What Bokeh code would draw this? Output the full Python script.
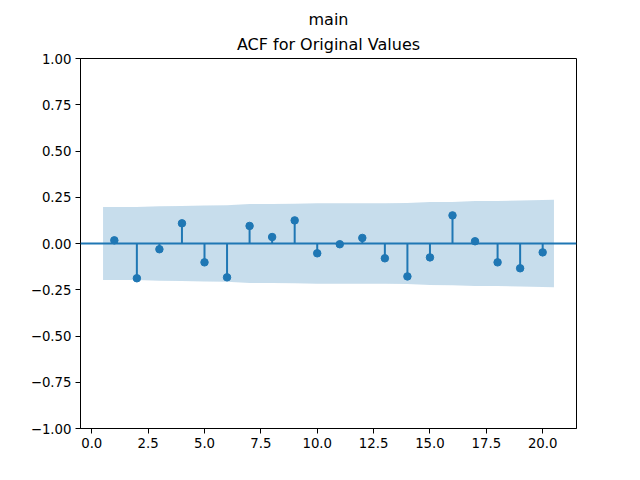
from bokeh.plotting import figure
from bokeh.models import Span, Title, Range1d, FixedTicker, CustomJSTickFormatter, ColumnDataSource
from bokeh.embed import file_html
from bokeh.resources import INLINE

# data
lags = [1, 2, 3, 4, 5, 6, 7, 8, 9, 10, 11, 12, 13, 14, 15, 16, 17, 18, 19, 20]
acf_values = [0.017, -0.188, -0.031, 0.109, -0.102, -0.183, 0.095, 0.035, 0.125, -0.053,
              -0.004, 0.030, -0.080, -0.178, -0.075, 0.152, 0.012, -0.102, -0.134, -0.048]
conf_halfwidth = [0.197, 0.197, 0.202, 0.203, 0.205, 0.207, 0.213, 0.214, 0.215, 0.218,
                  0.218, 0.218, 0.218, 0.219, 0.224, 0.225, 0.230, 0.230, 0.232, 0.236]
x_ticks = [0.0, 2.5, 5.0, 7.5, 10.0, 12.5, 15.0, 17.5, 20.0]
y_ticks = [-1.0, -0.75, -0.5, -0.25, 0.0, 0.25, 0.5, 0.75, 1.0]
title_top = "main"
title_main = "ACF for Original Values"

C0 = "#1f77b4"
FONT = "DejaVu Sans"

p = figure(width=624, height=464, output_backend="svg", toolbar_location=None,
           x_range=Range1d(-0.5, 21.5), y_range=Range1d(-1.0, 1.0),
           min_border_left=80, min_border_right=48, min_border_top=58, min_border_bottom=36,
           frame_width=496, frame_height=370)

p.title.text = title_top
p.title.align = "center"
p.title.text_font = FONT
p.title.text_font_size = "16px"
p.title.text_font_style = "normal"
p.title.text_color = "black"
p.title.standoff = 0
p.add_layout(Title(text=title_main, align="center", text_font=FONT, text_font_size="16px",
                   text_font_style="normal", text_color="black", standoff=9), "above")

# confidence band (x edges extended by half a lag like statsmodels)
band_x = [float(v) for v in lags]
band_x[0] -= 0.5
band_x[-1] += 0.5
band_src = ColumnDataSource(dict(x=band_x, lo=[-c for c in conf_halfwidth], hi=conf_halfwidth))
p.varea(x="x", y1="lo", y2="hi", source=band_src, fill_color=C0, fill_alpha=0.25)

p.add_layout(Span(location=0, dimension="width", line_color=C0, line_width=2))

src = ColumnDataSource(dict(x=lags, y=acf_values, z=[0] * len(lags)))
p.segment(x0="x", y0="z", x1="x", y1="y", source=src, line_color=C0, line_width=2)
p.scatter(x="x", y="y", source=src, size=7.5, fill_color=C0, line_color=C0)

p.xgrid.visible = False
p.ygrid.visible = False
p.outline_line_color = "black"
p.outline_line_width = 1
p.outline_line_alpha = 1

fmt = """
var s = tick.toFixed(%d);
return s.replace('-', '\u2212');
"""
p.xaxis.ticker = FixedTicker(ticks=x_ticks)
p.yaxis.ticker = FixedTicker(ticks=y_ticks)
p.xaxis.formatter = CustomJSTickFormatter(code=fmt % 1)
p.yaxis.formatter = CustomJSTickFormatter(code=fmt % 2)
for ax in (p.xaxis[0], p.yaxis[0]):
    ax.axis_line_color = "black"
    ax.major_tick_line_color = "black"
    ax.major_tick_out = 5
    ax.major_tick_in = 0
    ax.minor_tick_line_color = None
    ax.major_label_text_font = FONT
    ax.major_label_text_font_size = "13.3px"
    ax.major_label_text_color = "black"
    ax.major_label_standoff = 4

p.background_fill_color = "white"
p.border_fill_color = "white"

open("out.html", "w").write(file_html(p, INLINE))
